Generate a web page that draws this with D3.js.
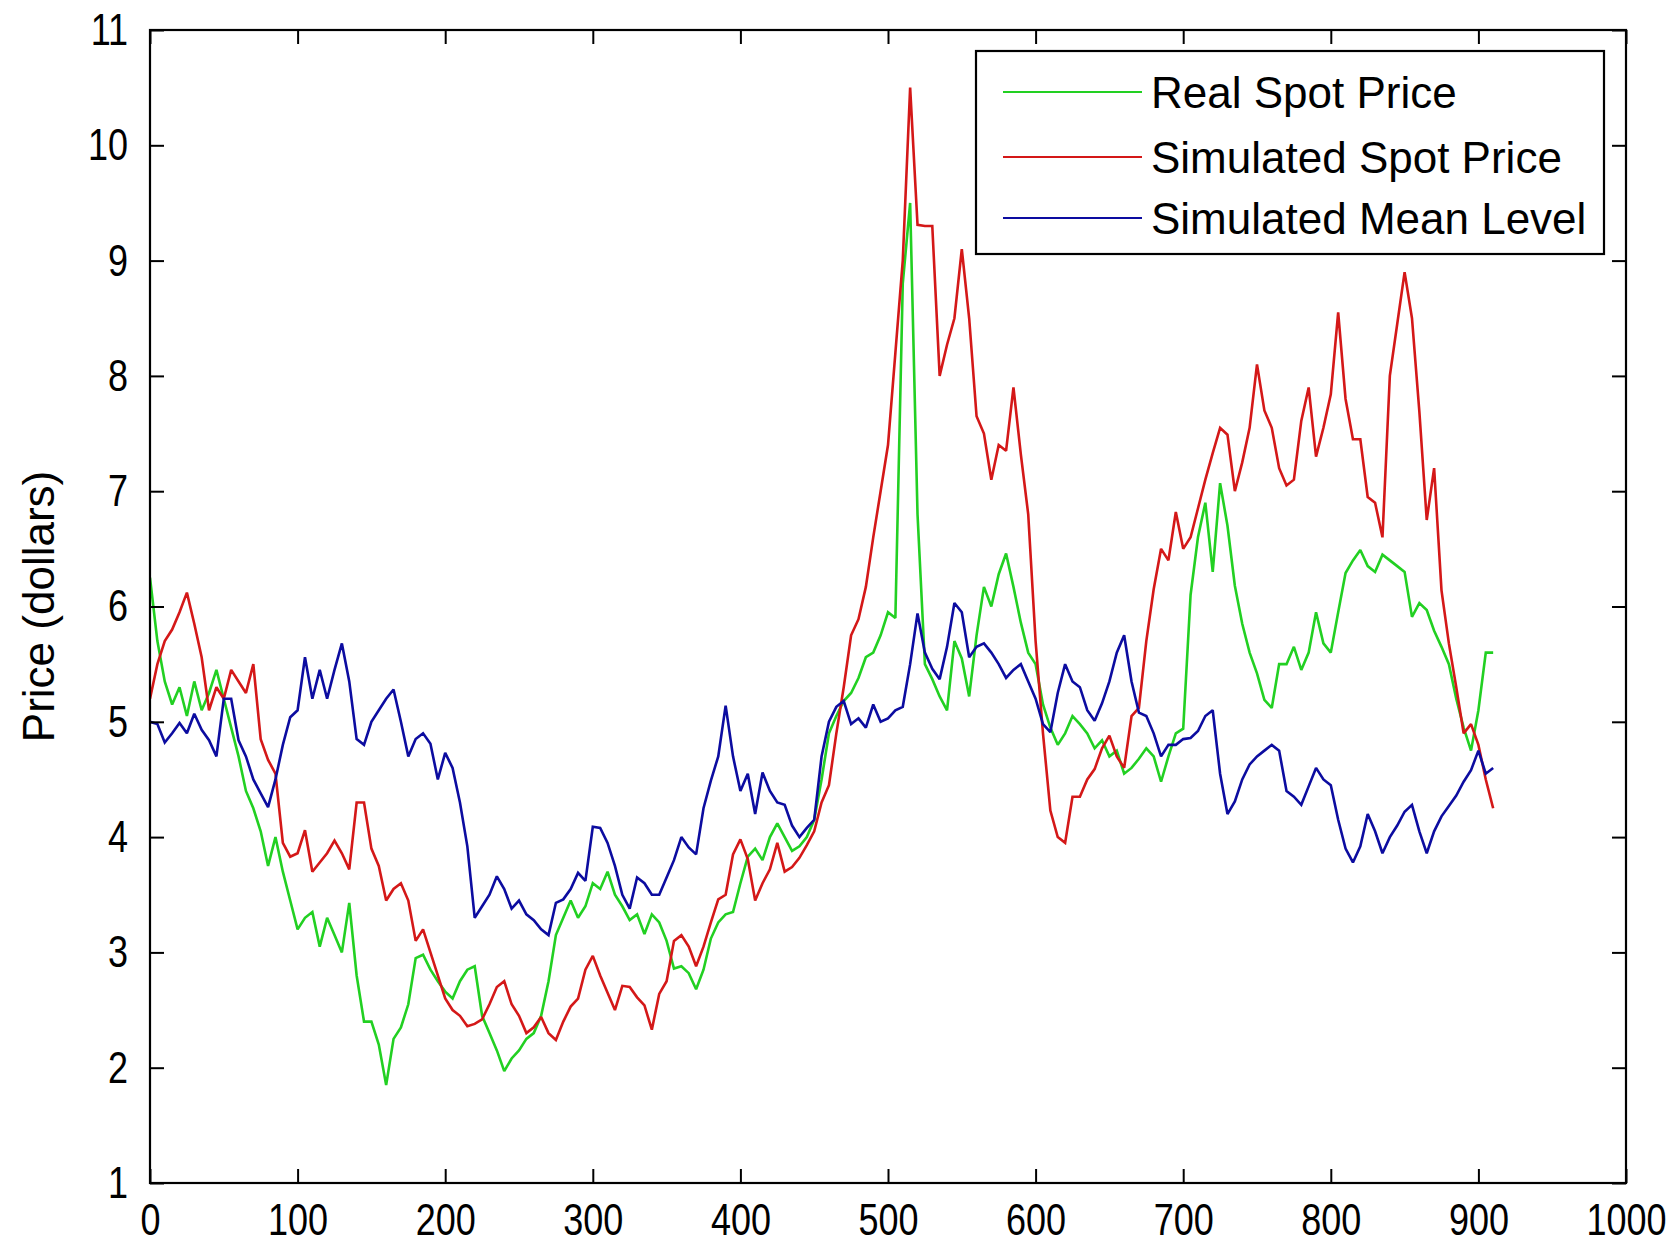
<!DOCTYPE html>
<html>
<head>
<meta charset="utf-8">
<script src="https://cdn.jsdelivr.net/npm/d3@7/dist/d3.min.js"></script>
<style>
  body { margin: 0; background: #fff; }
  svg text { font-family: "Liberation Sans", Arial, Helvetica, sans-serif; fill: #000; }
</style>
</head>
<body>
<svg id="chart" width="1676" height="1246"></svg>
<script>
// one value every 5 days, day 0 .. 910
const step = 5;

const realSpot = [
  6.25, 5.7, 5.35, 5.15, 5.3, 5.05, 5.35, 5.1, 5.25, 5.45,
  5.2, 4.95, 4.7, 4.4, 4.25, 4.05, 3.75, 4.0, 3.7, 3.45,
  3.2, 3.3, 3.35, 3.05, 3.3, 3.15, 3.0, 3.43, 2.8, 2.4,
  2.4, 2.2, 1.85, 2.25, 2.35, 2.55, 2.95, 2.98, 2.85, 2.75,
  2.66, 2.6, 2.75, 2.85, 2.88, 2.45, 2.3, 2.15, 1.97, 2.08,
  2.15, 2.25, 2.3, 2.45, 2.75, 3.15, 3.3, 3.45, 3.3, 3.4,
  3.6, 3.55, 3.7, 3.5, 3.4, 3.28, 3.33, 3.16, 3.33, 3.26,
  3.1, 2.86, 2.88, 2.82, 2.68, 2.85, 3.12, 3.26, 3.33, 3.35,
  3.6, 3.83, 3.9, 3.8, 4.0, 4.12, 4.0, 3.88, 3.92, 4.0,
  4.15, 4.5, 4.9, 5.05, 5.18, 5.25, 5.38, 5.56, 5.6, 5.75,
  5.95, 5.9, 8.8, 9.5, 6.8, 5.5, 5.37, 5.22, 5.1, 5.7,
  5.55, 5.22, 5.75, 6.17, 6.0, 6.28, 6.46, 6.17, 5.86, 5.6,
  5.5, 5.15, 4.95, 4.8, 4.9, 5.05, 4.98, 4.9, 4.77, 4.84,
  4.7, 4.75, 4.55, 4.6, 4.68, 4.77, 4.7, 4.48, 4.7, 4.9,
  4.94, 6.1, 6.6, 6.9, 6.3, 7.07, 6.7, 6.18, 5.85, 5.6,
  5.42, 5.19, 5.12, 5.5, 5.5, 5.65, 5.45, 5.6, 5.95, 5.68,
  5.6, 5.95, 6.29, 6.4, 6.49, 6.35, 6.3, 6.45, 6.4, 6.35,
  6.3, 5.91, 6.03, 5.97, 5.79, 5.65, 5.5, 5.2, 4.95, 4.75,
  5.1, 5.6, 5.6
];

const simSpot = [
  5.2, 5.5, 5.7, 5.8, 5.95, 6.12, 5.85, 5.56, 5.1, 5.3,
  5.2, 5.45, 5.35, 5.25, 5.5, 4.85, 4.67, 4.55, 3.95, 3.83,
  3.86, 4.06, 3.7, 3.78, 3.86, 3.97, 3.86, 3.72, 4.3, 4.3,
  3.9, 3.75, 3.45, 3.55, 3.6, 3.45, 3.1, 3.2, 3.0, 2.8,
  2.6, 2.5, 2.45, 2.36, 2.38, 2.42, 2.55, 2.7, 2.75, 2.55,
  2.45, 2.3, 2.35, 2.44, 2.3, 2.24, 2.4, 2.53, 2.6, 2.85,
  2.97, 2.8, 2.65, 2.5, 2.71, 2.7, 2.61, 2.54, 2.33, 2.64,
  2.75, 3.1, 3.15, 3.05, 2.88, 3.05, 3.26, 3.46, 3.5, 3.85,
  3.98, 3.81, 3.45, 3.6, 3.72, 3.95, 3.7, 3.74, 3.82, 3.93,
  4.05, 4.3, 4.45, 4.9, 5.3, 5.75, 5.89, 6.17, 6.6, 7.0,
  7.4, 8.2, 9.0, 10.5, 9.31, 9.3, 9.3, 8.0, 8.27, 8.5,
  9.1, 8.5, 7.65, 7.5, 7.1, 7.4, 7.35, 7.9, 7.32, 6.8,
  5.7, 4.9, 4.23, 4.0, 3.95, 4.35, 4.35, 4.5, 4.59, 4.77,
  4.88, 4.7, 4.6, 5.05, 5.12, 5.7, 6.15, 6.5, 6.4, 6.82,
  6.5, 6.6, 6.85, 7.1, 7.33, 7.55, 7.49, 7.0, 7.25, 7.55,
  8.1, 7.7, 7.55, 7.2, 7.05, 7.1, 7.61, 7.9, 7.3, 7.55,
  7.84, 8.55, 7.8, 7.45, 7.45, 6.95, 6.9, 6.6, 8.0, 8.45,
  8.9, 8.5, 7.69, 6.75, 7.2, 6.14, 5.68, 5.3, 4.9, 4.98,
  4.8, 4.5, 4.25
];

const simMean = [
  5.0, 4.98, 4.82, 4.9, 4.99, 4.9, 5.07, 4.93, 4.84, 4.7,
  5.2, 5.2, 4.84, 4.7, 4.5, 4.38, 4.26, 4.5, 4.8, 5.04,
  5.1, 5.56, 5.2, 5.45, 5.2, 5.45, 5.68, 5.35, 4.85, 4.8,
  5.0, 5.1, 5.2, 5.28, 5.0, 4.7, 4.85, 4.9, 4.81, 4.5,
  4.73, 4.6, 4.3, 3.92, 3.3, 3.4, 3.5, 3.66, 3.55, 3.38,
  3.45, 3.33, 3.28, 3.2, 3.15, 3.43, 3.46, 3.55, 3.69, 3.62,
  4.09, 4.08, 3.95, 3.75, 3.5, 3.38, 3.65, 3.6, 3.5, 3.5,
  3.65, 3.8, 4.0, 3.91, 3.85, 4.25, 4.49, 4.7, 5.14, 4.7,
  4.4, 4.55, 4.2, 4.56, 4.4, 4.3, 4.28, 4.1, 4.0, 4.08,
  4.15, 4.7, 5.0, 5.13, 5.18, 4.98, 5.03, 4.95, 5.15, 5.0,
  5.03, 5.1, 5.13, 5.5, 5.94, 5.6, 5.46, 5.37, 5.65, 6.03,
  5.95, 5.56, 5.65, 5.68, 5.6, 5.5, 5.38, 5.45, 5.5, 5.35,
  5.2, 4.98, 4.91, 5.25, 5.5, 5.35, 5.3, 5.1, 5.01, 5.16,
  5.35, 5.6, 5.75, 5.35, 5.08, 5.05, 4.9, 4.7, 4.8, 4.8,
  4.85, 4.86, 4.92, 5.05, 5.1, 4.55, 4.2, 4.31, 4.5, 4.63,
  4.7, 4.75, 4.8, 4.75, 4.4, 4.35, 4.28, 4.44, 4.6, 4.5,
  4.45, 4.15, 3.9, 3.78, 3.92, 4.2, 4.05, 3.86, 4.0, 4.1,
  4.22, 4.28, 4.05, 3.86, 4.05, 4.18, 4.27, 4.36, 4.48, 4.58,
  4.75, 4.55, 4.6
];

const seriesNames = ["Real Spot Price", "Simulated Spot Price", "Simulated Mean Level"];
const seriesColors = ["#22d022", "#d41818", "#0c0ca0"];
const xTicks = [0, 100, 200, 300, 400, 500, 600, 700, 800, 900, 1000];
const yTicks = [1, 2, 3, 4, 5, 6, 7, 8, 9, 10, 11];
const yLabel = "Price (dollars)";

// plot box in page pixels
const boxLeft = 150, boxRight = 1626, boxTop = 30, boxBottom = 1183;
const tickLen = 14;
const fontSize = 44;
// tick numbers are drawn taller and squeezed sideways, like the picture
const tickFont = 45;
const squeeze = 0.8;

const svg = d3.select("#chart");

const x = d3.scaleLinear().domain([0, 1000]).range([boxLeft, boxRight]);
const y = d3.scaleLinear().domain([1, 11]).range([boxBottom, boxTop]);

svg.append("rect")
    .attr("width", 1676)
    .attr("height", 1246)
    .attr("fill", "#fff");

svg.append("defs").append("clipPath")
    .attr("id", "plotClip")
    .append("rect")
    .attr("x", boxLeft)
    .attr("y", boxTop)
    .attr("width", boxRight - boxLeft)
    .attr("height", boxBottom - boxTop);

// LINES - green first, blue ends up on top like the matlab plot order
const line = d3.line()
    .x((d, i) => x(i * step))
    .y(d => y(d));

const allSeries = [realSpot, simSpot, simMean];
const lines = svg.append("g").attr("clip-path", "url(#plotClip)");
allSeries.forEach(function (values, k) {
    lines.append("path")
        .datum(values)
        .attr("d", line)
        .attr("fill", "none")
        .attr("stroke", seriesColors[k])
        .attr("stroke-width", 2.6)
        .attr("stroke-linejoin", "miter")
        .attr("stroke-miterlimit", 2);
});

// AXES - ticks point inward on all four sides
function styleAxis(g) {
    g.select(".domain").remove();
    g.selectAll(".tick line").attr("stroke", "#000").attr("stroke-width", 2);
    g.selectAll(".tick text")
        .attr("font-size", tickFont)
        .attr("font-family", "'Liberation Sans', Arial, sans-serif")
        .attr("fill", "#000")
        .attr("transform", "scale(" + squeeze + ",1)");
}

svg.append("g")
    .attr("transform", "translate(0," + boxBottom + ")")
    .call(d3.axisBottom(x).tickValues(xTicks).tickFormat(d3.format("d"))
        .tickSizeInner(-tickLen).tickSizeOuter(0).tickPadding(20))
    .call(styleAxis);

svg.append("g")
    .attr("transform", "translate(0," + boxTop + ")")
    .call(d3.axisTop(x).tickValues(xTicks).tickFormat("")
        .tickSizeInner(-tickLen).tickSizeOuter(0))
    .call(styleAxis);

svg.append("g")
    .attr("transform", "translate(" + boxLeft + ",0)")
    .call(d3.axisLeft(y).tickValues(yTicks).tickFormat(d3.format("d"))
        .tickSizeInner(-tickLen).tickSizeOuter(0).tickPadding(22 / squeeze))
    .call(styleAxis);

svg.append("g")
    .attr("transform", "translate(" + boxRight + ",0)")
    .call(d3.axisRight(y).tickValues(yTicks).tickFormat("")
        .tickSizeInner(-tickLen).tickSizeOuter(0))
    .call(styleAxis);

svg.append("rect")
    .attr("x", boxLeft)
    .attr("y", boxTop)
    .attr("width", boxRight - boxLeft)
    .attr("height", boxBottom - boxTop)
    .attr("fill", "none")
    .attr("stroke", "#000")
    .attr("stroke-width", 2.2);

svg.append("text")
    .attr("transform", "translate(54," + ((boxTop + boxBottom) / 2) + ") rotate(-90)")
    .attr("text-anchor", "middle")
    .attr("font-size", fontSize)
    .text(yLabel);

// LEGEND
const legend = svg.append("g").attr("transform", "translate(976,51)");
legend.append("rect")
    .attr("width", 628)
    .attr("height", 203)
    .attr("fill", "#fff")
    .attr("stroke", "#000")
    .attr("stroke-width", 2.2);

const rowY = [41, 106, 167];
seriesNames.forEach(function (name, k) {
    legend.append("line")
        .attr("x1", 27)
        .attr("x2", 166)
        .attr("y1", rowY[k])
        .attr("y2", rowY[k])
        .attr("stroke", seriesColors[k])
        .attr("stroke-width", 2.2);
    legend.append("text")
        .attr("x", 175)
        .attr("y", rowY[k] + 16)
        .attr("font-size", fontSize)
        .text(name);
});
</script>
</body>
</html>
